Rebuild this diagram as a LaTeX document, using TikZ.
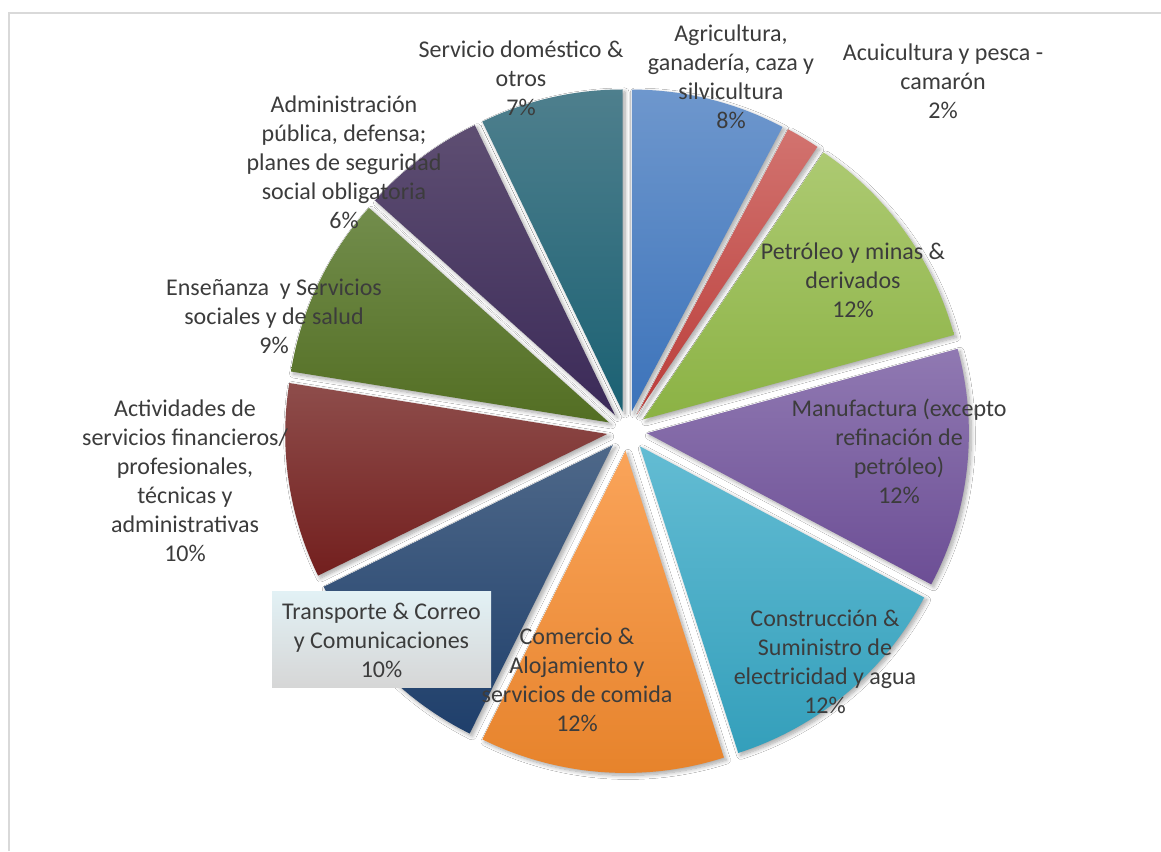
\documentclass[tikz,border=0pt]{standalone}
\usepackage{fontspec}
\setmainfont{Carlito}
\usetikzlibrary{calc,shadows.blur}
\definecolor{txt}{HTML}{3C3C3C}
\definecolor{frame}{HTML}{D9D9D9}
\definecolor{agriT}{HTML}{6E97CD}\definecolor{agriB}{HTML}{3C73BA}
\definecolor{acuiT}{HTML}{D2736F}\definecolor{acuiB}{HTML}{BA3D3A}
\definecolor{petrT}{HTML}{ADCA72}\definecolor{petrB}{HTML}{8BB244}
\definecolor{manuT}{HTML}{9079B2}\definecolor{manuB}{HTML}{6C4E95}
\definecolor{consT}{HTML}{63BCD3}\definecolor{consB}{HTML}{349FBB}
\definecolor{comeT}{HTML}{FAA45A}\definecolor{comeB}{HTML}{E6822A}
\definecolor{tranT}{HTML}{4E6889}\definecolor{tranB}{HTML}{1F3F6B}
\definecolor{actiT}{HTML}{8E4D4B}\definecolor{actiB}{HTML}{731F1E}
\definecolor{enseT}{HTML}{728D4C}\definecolor{enseB}{HTML}{536E23}
\definecolor{admiT}{HTML}{5E4E72}\definecolor{admiB}{HTML}{3B2A58}
\definecolor{servT}{HTML}{4E7F8D}\definecolor{servB}{HTML}{1B6173}
\definecolor{boxT}{HTML}{E2F1F5}\definecolor{boxB}{HTML}{D6D6D6}
\newcommand\pieslice[4]{%
  \pgfmathsetmacro\tA{90-#1}%
  \pgfmathsetmacro\tB{90-#2}%
  \pgfmathsetmacro\tM{90-(#1+#2)/2}%
  \path[sliceshape, top color=#3, bottom color=#4]
    ($(C)+(\tM:20)$) -- +(\tA:322) arc[start angle=\tA, end angle=\tB, radius=322] -- cycle;
}
\tikzset{
  sliceshape/.style={blur shadow={shadow xshift=2.5pt, shadow yshift=-2.5pt, shadow blur radius=4pt, shadow blur steps=8, shadow opacity=35}},
  lbl/.style={text=txt, font=\fontsize{24}{29}\selectfont, align=center, inner sep=0pt}
}
\begin{document}
\begin{tikzpicture}[x=1pt,y=1pt]
\useasboundingbox (0,0) rectangle (1161,851);
\fill[white] (0,0) rectangle (1161,851);
\draw[frame, line width=2pt] (9,0) -- (9,838) -- (1161,838);
\coordinate (C) at (627,420);
\pieslice{0}{27.9}{agriT}{agriB}
\pieslice{27.9}{34.0}{acuiT}{acuiB}
\pieslice{34.0}{74.8}{petrT}{petrB}
\pieslice{74.8}{118.0}{manuT}{manuB}
\pieslice{118.0}{162.2}{consT}{consB}
\pieslice{162.2}{206.4}{comeT}{comeB}
\pieslice{206.4}{243.9}{tranT}{tranB}
\pieslice{243.9}{279.1}{actiT}{actiB}
\pieslice{279.1}{311.8}{enseT}{enseB}
\pieslice{311.8}{334.2}{admiT}{admiB}
\pieslice{334.2}{360}{servT}{servB}
\node[lbl] (lagri) at (731,774) {Agricultura,\\ganadería, caza y\\silvicultura\\8\%};
\node[lbl] (lacui) at (943,770) {Acuicultura y pesca -\\camarón\\2\%};
\node[lbl] (lpetr) at (853,571) {Petróleo y minas \&\\derivados\\12\%};
\node[lbl] (lmanu) at (899,400) {Manufactura (excepto\\refinación de\\petróleo)\\12\%};
\node[lbl] (lcons) at (825,189) {Construcción \&\\Suministro de\\electricidad y agua\\12\%};
\node[lbl] (lcome) at (577,171) {Comercio \&\\Alojamiento y\\servicios de comida\\12\%};
\node[lbl, top color=boxT, bottom color=boxB, minimum width=219pt, minimum height=96pt] (ltran) at (381.5,211) {Transporte \& Correo\\y Comunicaciones\\10\%};
\node[lbl] (lacti) at (185,370.5) {Actividades de\\servicios financieros/\\profesionales,\\técnicas y\\administrativas\\10\%};
\node[lbl] (lense) at (274,535) {Enseñanza\ \ y Servicios\\sociales y de salud\\9\%};
\node[lbl] (ladmi) at (344,689) {Administración\\pública, defensa;\\planes de seguridad\\social obligatoria\\6\%};
\node[lbl] (lserv) at (521,773) {Servicio doméstico \&\\otros\\7\%};
\end{tikzpicture}
\end{document}
